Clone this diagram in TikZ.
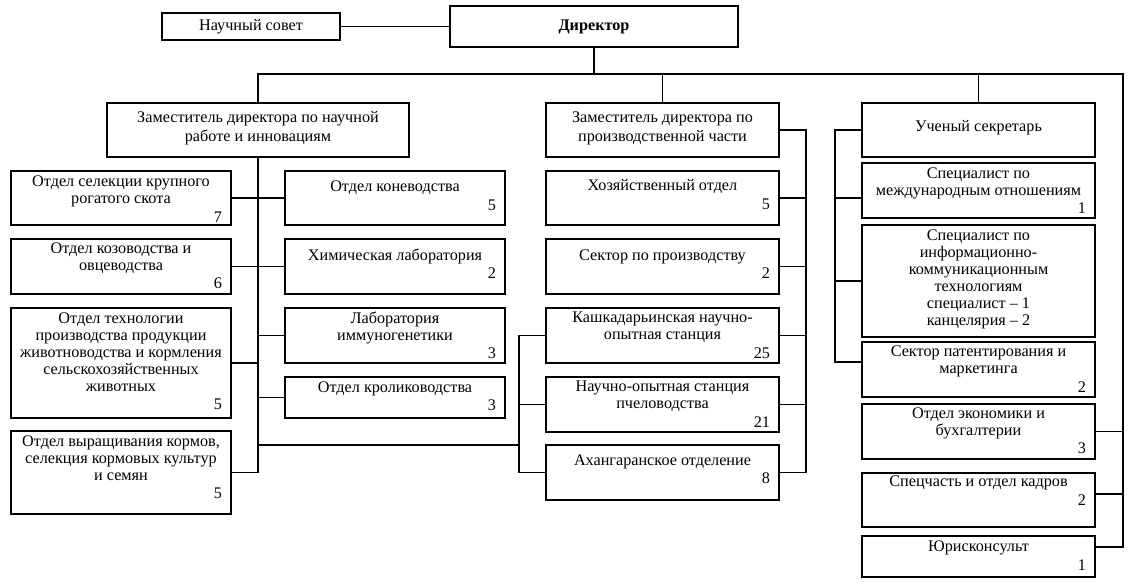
\documentclass[tikz,border=0pt]{standalone}
\usepackage{fontspec}
\setmainfont{Liberation Serif}
\newcommand\bt[5]{\parbox[c][#2pt][t]{#1pt}{\fontsize{16.2}{17}\selectfont\vspace*{#3pt}\centering\strut #4\par\if\relax\detokenize{#5}\relax\else\vspace{1.5pt}\raggedleft #5\hspace*{9pt}\par\fi}}
\begin{document}
\begin{tikzpicture}[x=1pt,y=-1pt,
  bx/.style={draw, line width=1.3pt, inner sep=0pt, outer sep=0pt, anchor=north west},
  ln/.style={line width=1.3pt}]
\useasboundingbox (0,0) rectangle (1131,582);
% top
\node[bx, minimum width=178pt, minimum height=27pt, font=\fontsize{16.2}{17}\selectfont] (sovet) at (162,13) {Научный совет};
\node[bx, line width=2.2pt, minimum width=288pt, minimum height=41pt, font=\fontsize{16.2}{17}\selectfont\bfseries] (dir) at (450,6) {Директор};
% deputies
\node[bx] (zam1) at (107,103) {\bt{302}{54}{7.8}{Заместитель директора по научной\\[2pt]работе и инновациям}{}};
\node[bx] (zam2) at (546,103) {\bt{233}{54}{7.8}{Заместитель директора по\\[2pt]производственной части}{}};
\node[bx] (sec) at (862,103) {\bt{233}{54}{16.1}{Ученый секретарь}{}};
% left column
\node[bx] (sel) at (11,171) {\bt{220}{54}{3.8}{Отдел селекции крупного\\рогатого скота}{7}};
\node[bx] (koz) at (11,239) {\bt{220}{55}{2.4}{Отдел козоводства и\\овцеводства}{6}};
\node[bx] (tech) at (11,308) {\bt{220}{110}{3.4}{Отдел технологии\\производства продукции\\животноводства и кормления\\сельскохозяйственных\\животных}{5}};
\node[bx] (vyr) at (11,431) {\bt{220}{83}{3.1}{Отдел выращивания кормов,\\селекция кормовых культур\\и семян}{5}};
% centre-left column
\node[bx] (kon) at (285,171) {\bt{220}{54}{8.8}{Отдел коневодства}{5}};
\node[bx] (chem) at (285,239) {\bt{220}{55}{9.1}{Химическая лаборатория}{2}};
\node[bx] (lab) at (285,308) {\bt{220}{55}{3.4}{Лаборатория\\иммуногенетики}{3}};
\node[bx] (krol) at (285,377) {\bt{220}{41}{3.4}{Отдел кролиководства}{3}};
% middle column
\node[bx] (hoz) at (546,171) {\bt{233}{54}{7.8}{Хозяйственный отдел}{5}};
\node[bx] (sekt) at (546,239) {\bt{233}{55}{9.1}{Сектор по производству}{2}};
\node[bx] (kash) at (546,308) {\bt{233}{55}{2.8}{Кашкадарьинская научно-\\опытная станция}{25}};
\node[bx] (nos) at (546,377) {\bt{233}{55}{2.8}{Научно-опытная станция\\пчеловодства}{21}};
\node[bx] (ahan) at (546,445) {\bt{233}{55}{8.1}{Ахангаранское отделение}{8}};
% right column
\node[bx] (mez) at (862,163) {\bt{233}{55}{3.4}{Специалист по\\международным отношениям}{1}};
\node[bx] (ikt) at (862,225) {\bt{233}{112}{3.1}{Специалист по\\информационно-\\коммуникационным\\технологиям\\специалист – 1\\канцелярия – 2}{}};
\node[bx] (pat) at (862,342) {\bt{233}{55}{2.8}{Сектор патентирования и\\маркетинга}{2}};
\node[bx] (econ) at (862,404) {\bt{233}{55}{2.4}{Отдел экономики и\\бухгалтерии}{3}};
\node[bx] (spec) at (862,473) {\bt{233}{54}{1.8}{Спецчасть и отдел кадров}{2}};
\node[bx] (jur) at (862,536) {\bt{233}{41}{3.8}{Юрисконсульт}{1}};
% helper coordinates
\coordinate (busR) at (1123,74);
\coordinate (jurc) at ([yshift=9.5pt]jur.east);
\coordinate (specc) at ([yshift=6pt]spec.east);
\coordinate (mezc) at ([yshift=-7.5pt]mez.west);
\coordinate (patc) at ([yshift=7.5pt]pat.west);
\coordinate (rsb) at ([xshift=-27pt]sec.west);
\coordinate (mrb) at ([xshift=27pt]zam2.east);
\coordinate (mlb) at ([xshift=-27pt]kash.west);
% connectors
\draw[ln] (sovet.east) -- (dir.west);
\draw[ln] (dir.south) -- (dir.south |- busR);
\draw[ln] (zam1.north) -- (zam1.north |- busR) -- (busR) -- (busR |- jurc) -- (jurc);
\draw[ln] (zam2.north) -- (zam2.north |- busR);
\draw[ln] (sec.north) -- (sec.north |- busR);
\draw[ln] (econ.east) -- (econ.east -| busR);
\draw[ln] (specc) -- (specc -| busR);
% secretary bus
\draw[ln] (sec.west) -- (rsb) |- (patc);
\draw[ln] (mezc) -- (mezc -| rsb);
\draw[ln] (ikt.west) -- (ikt.west -| rsb);
% production bus (right)
\draw[ln] (zam2.east) -- (mrb) |- (ahan.east);
\draw[ln] (hoz.east) -- (hoz.east -| mrb);
\draw[ln] (sekt.east) -- (sekt.east -| mrb);
\draw[ln] (kash.east) -- (kash.east -| mrb);
\draw[ln] (nos.east) -- (nos.east -| mrb);
% production bus (left)
\draw[ln] (kash.west) -- (mlb) |- (ahan.west);
\draw[ln] (nos.west) -- (nos.west -| mlb);
% science bus
\draw[ln] (zam1.south) -- (zam1.south |- vyr.east) -- (vyr.east);
\draw[ln] (sel.east) -- (sel.east -| zam1.south);
\draw[ln] (koz.east) -- (koz.east -| zam1.south);
\draw[ln] (tech.east) -- (tech.east -| zam1.south);
\draw[ln] (kon.west) -- (kon.west -| zam1.south);
\draw[ln] (chem.west) -- (chem.west -| zam1.south);
\draw[ln] (lab.west) -- (lab.west -| zam1.south);
\draw[ln] (krol.west) -- (krol.west -| zam1.south);
\draw[ln] (zam1.south |- ahan.north) -- (mlb |- ahan.north);
\end{tikzpicture}
\end{document}
